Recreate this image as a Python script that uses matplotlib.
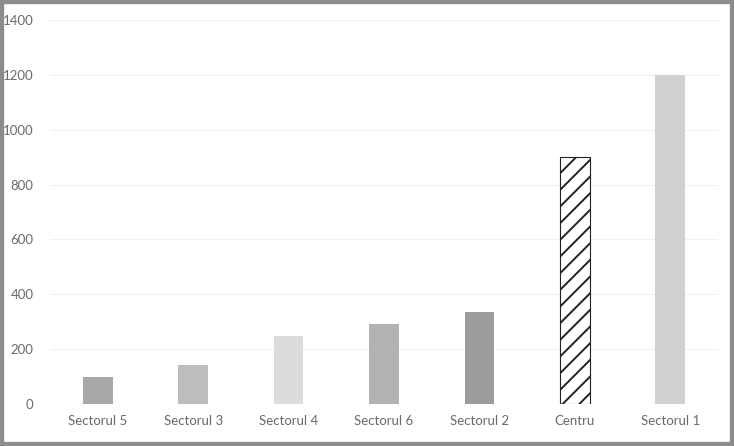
import matplotlib.pyplot as plt
from matplotlib.patches import Rectangle

# Date
sectoare = ['Sectorul 5', 'Sectorul 3', 'Sectorul 4', 'Sectorul 6', 'Sectorul 2', 'Centru', 'Sectorul 1']
valori = [98, 142, 248, 290, 334, 900, 1198]
culori = ['#a8a8a8', '#bdbdbd', '#dcdcdc', '#b3b3b3', '#9c9c9c', '#ffffff', '#d0d0d0']
yticks = [0, 200, 400, 600, 800, 1000, 1200, 1400]

plt.rcParams['font.family'] = ['Lato', 'DejaVu Sans']
plt.rcParams['hatch.linewidth'] = 1.4

fig = plt.figure(figsize=(7.34, 4.46), dpi=100)
ax = fig.add_axes([50 / 734, 42 / 446, 668 / 734, 384 / 446])

bare = ax.bar(range(len(sectoare)), valori, width=0.31, color=culori, zorder=3)
# Centru hasurat
bare[5].set_hatch('//')
bare[5].set_edgecolor('#222222')
bare[5].set_linewidth(0.8)

ax.set_ylim(0, 1400)
ax.set_xlim(-0.5, len(sectoare) - 0.5)
ax.set_yticks(yticks)
ax.set_xticks(range(len(sectoare)))
ax.set_xticklabels(sectoare)
ax.grid(axis='y', color='#f0f0f0', linewidth=0.8, zorder=0)
ax.tick_params(length=0, labelsize=9.5, colors='#6a6a6a')
ax.tick_params(axis='x', pad=8)
ax.tick_params(axis='y', pad=12)
for s in ax.spines.values():
    s.set_visible(False)

# rama gri a imaginii
fig.patches.append(Rectangle((0, 0), 1, 1, transform=fig.transFigure, fill=False,
                             edgecolor='#8c8c8c', linewidth=6, zorder=10))

fig.savefig('out.png', dpi=100)
